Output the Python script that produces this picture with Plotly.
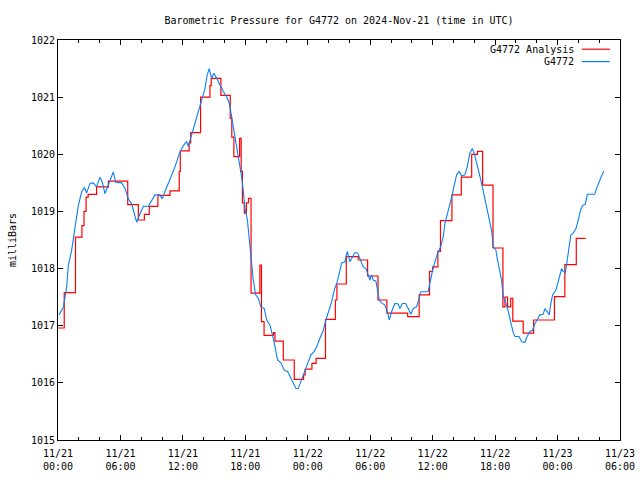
import pandas as pd
import plotly.graph_objects as go

base_time = "2024-11-21 00:00"

# G4772 observations: hours since 11/21 00:00 UTC, pressure (mb)
obs_hours = [0.1, 0.51, 0.83, 0.99, 1.31, 1.63, 1.95, 2.27, 2.53, 2.75, 3.07, 3.39, 3.71, 4.03, 4.26,
             4.51, 4.90, 5.31, 5.54, 6.12, 6.44, 6.76, 7.08, 7.30, 7.56, 7.88, 8.20, 8.68, 9.00, 9.32,
             9.80, 10.02, 10.28, 10.6, 10.92, 11.24, 11.56, 11.88, 12.2, 12.36, 12.52, 12.84, 13.16,
             13.48, 13.8, 14.12, 14.34, 14.53, 14.76, 14.98, 15.24, 15.56, 15.88, 16.2, 16.46, 16.68,
             16.9, 17.16, 17.42, 17.64, 17.8, 17.96, 18.2, 18.35, 18.54, 18.76, 18.99, 19.24, 19.5,
             19.82, 20.05, 20.37, 20.69, 20.91, 21.1, 21.42, 21.74, 22.06, 22.38, 22.6, 22.86, 23.08,
             23.34, 23.66, 23.98, 24.3, 24.63, 24.85, 25.17, 25.49, 25.74, 26.06, 26.3, 26.54, 26.83,
             27.09, 27.25, 27.57, 27.79, 28.05, 28.31, 28.53, 28.8, 29.07, 29.33, 29.59, 29.81, 29.97,
             30.13, 30.29, 30.55, 30.71, 30.87, 31.09, 31.41, 31.64, 31.83, 32.06, 32.37, 32.69, 32.85,
             33.11, 33.4, 33.65, 33.9, 34.13, 34.45, 34.71, 34.84, 35.57, 35.73, 35.99, 36.22, 36.54,
             36.77, 37.01, 37.18, 37.4, 37.66, 37.88, 38.04, 38.3, 38.55, 38.78, 39.1, 39.32, 39.58,
             39.8, 39.99, 40.22, 40.47, 40.7, 40.92, 41.18, 41.44, 41.66, 41.82, 42.07, 42.2, 42.4,
             42.62, 42.78, 43.04, 43.26, 43.49, 43.75, 43.91, 44.3, 44.55, 44.86, 45.08, 45.34, 45.6,
             45.82, 46.04, 46.3, 46.62, 46.78, 47.0, 47.2, 47.33, 47.52, 47.84, 48.06, 48.22, 48.39,
             48.54, 48.75, 48.93, 49.09, 49.28, 49.51, 49.77, 49.99, 50.22, 50.42, 50.65, 50.86, 51.58,
             51.74, 51.97, 52.23, 52.45]
obs_mb = [1017.19, 1017.32, 1017.67, 1018.05, 1018.32, 1018.7, 1019.1, 1019.34, 1019.42, 1019.32,
          1019.49, 1019.5, 1019.43, 1019.6, 1019.51, 1019.31, 1019.49, 1019.69, 1019.51, 1019.5,
          1019.4, 1019.22, 1019.13, 1018.99, 1018.81, 1018.96, 1019.09, 1019.09, 1019.19, 1019.29,
          1019.29, 1019.22, 1019.35, 1019.49, 1019.64, 1019.78, 1019.96, 1020.1, 1020.19, 1020.22,
          1020.14, 1020.34, 1020.57, 1020.78, 1020.95, 1021.15, 1021.39, 1021.5, 1021.33, 1021.42,
          1021.33, 1021.21, 1021.10, 1021.01, 1020.89, 1020.66, 1020.43, 1020.13, 1019.9, 1019.61,
          1019.37, 1019.06, 1018.85, 1018.56, 1018.21, 1017.8, 1017.54, 1017.48, 1017.33, 1017.3,
          1017.1, 1017.01, 1016.78, 1016.57, 1016.4, 1016.35, 1016.22, 1016.2, 1016.08, 1015.99,
          1015.9, 1015.9, 1016.02, 1016.2, 1016.34, 1016.49, 1016.55, 1016.63, 1016.78, 1016.92,
          1017.1, 1017.27, 1017.42, 1017.62, 1017.77, 1017.97, 1018.1, 1018.12, 1018.3, 1018.12,
          1018.22, 1018.28, 1018.27, 1018.15, 1018.03, 1018.0, 1017.89, 1017.8, 1017.89, 1017.8,
          1017.78, 1017.62, 1017.45, 1017.4, 1017.36, 1017.25, 1017.1, 1017.25, 1017.39, 1017.38,
          1017.3, 1017.39, 1017.39, 1017.3, 1017.2, 1017.3, 1017.33, 1017.48, 1017.59, 1017.6,
          1017.77, 1017.97, 1018.12, 1018.3, 1018.38, 1018.56, 1018.79, 1018.94, 1019.11, 1019.29,
          1019.43, 1019.64, 1019.7, 1019.62, 1019.64, 1019.78, 1020.02, 1020.1, 1020.02, 1019.87,
          1019.67, 1019.49, 1019.29, 1019.08, 1018.85, 1018.67, 1018.38, 1018.33, 1018.18, 1017.97,
          1017.8, 1017.51, 1017.39, 1017.25, 1017.04, 1016.87, 1016.81, 1016.81, 1016.72, 1016.71,
          1016.81, 1016.9, 1016.92, 1017.04, 1017.1, 1017.19, 1017.2, 1017.3, 1017.25, 1017.19,
          1017.36, 1017.54, 1017.62, 1017.77, 1017.92, 1018.0, 1017.95, 1017.93, 1018.15, 1018.35,
          1018.59, 1018.62, 1018.7, 1018.85, 1019.03, 1019.11, 1019.12, 1019.3, 1019.3, 1019.4,
          1019.52, 1019.62, 1019.71]

# G4772 Analysis: times where value changes (step function)
ana_hours = [0.0, 0.6, 1.68, 2.3, 2.5, 2.7, 2.9, 3.71, 4.84, 6.70, 7.72, 8.3, 8.77, 9.6, 10.76,
             11.65, 11.75, 12.6, 12.75, 13.7, 14.6, 14.72, 15.65, 16.55, 16.7, 16.9, 17.45, 17.6,
             17.72, 17.9, 18.1, 18.3, 18.55, 19.4, 19.55, 19.8, 20.7, 20.85, 21.65, 22.7, 23.6,
             23.75, 24.4, 24.8, 25.7, 26.65, 26.8, 27.7, 28.85, 29.75, 30.75, 31.6, 33.6, 34.7,
             35.7, 36.0, 36.5, 36.75, 37.85, 38.75, 39.75, 40.3, 40.8, 41.8, 42.75, 42.95, 43.2,
             43.5, 43.7, 44.7, 45.7, 47.7, 48.7, 49.8, 50.7]
ana_mb = [1016.96, 1017.58, 1018.55, 1018.75, 1019.0, 1019.25, 1019.3, 1019.43, 1019.53, 1019.12,
          1018.85, 1018.95, 1019.09, 1019.28, 1019.36, 1019.7, 1020.06, 1020.2, 1020.38, 1021.0,
          1021.2, 1021.33, 1021.03, 1020.63, 1020.3, 1019.96, 1020.28, 1019.7, 1019.15, 1018.97,
          1019.15, 1019.23, 1017.57, 1018.06, 1017.07, 1016.83, 1016.88, 1016.73, 1016.4, 1016.06,
          1016.14, 1016.24, 1016.34, 1016.43, 1017.11, 1017.45, 1017.73, 1018.21, 1018.15, 1017.87,
          1017.45, 1017.22, 1017.16, 1017.54, 1017.95, 1018.03, 1018.3, 1018.84, 1019.29, 1019.6,
          1020.0, 1020.05, 1019.46, 1018.36, 1017.33, 1017.5, 1017.33, 1017.48, 1017.08, 1016.87,
          1017.1, 1017.51, 1018.07, 1018.53, 1018.53]

tick_hours = [0, 6, 12, 18, 24, 30, 36, 42, 48, 54]
tick_labels = ["11/21<br>00:00", "11/21<br>06:00", "11/21<br>12:00", "11/21<br>18:00",
               "11/22<br>00:00", "11/22<br>06:00", "11/22<br>12:00", "11/22<br>18:00",
               "11/23<br>00:00", "11/23<br>06:00"]

t0 = pd.Timestamp(base_time)
to_time = lambda hrs: [t0 + pd.Timedelta(hours=h) for h in hrs]

RED = "#ff0000"
BLUE = "#0a7ff5"
FONT = "DejaVu Sans Mono"

fig = go.Figure()
fig.add_trace(go.Scatter(x=to_time(ana_hours), y=ana_mb, mode="lines", line=dict(color=RED, width=1.2, shape="hv"),
                         name="G4772 Analysis", showlegend=False))
fig.add_trace(go.Scatter(x=to_time(obs_hours), y=obs_mb, mode="lines", line=dict(color=BLUE, width=1.1),
                         name="G4772", showlegend=False))

axis_common = dict(showline=True, linecolor="black", linewidth=1, mirror="allticks", ticks="inside",
                   tickcolor="black", showgrid=False, zeroline=False, automargin=False,
                   tickfont=dict(family=FONT, size=10, color="black"))

fig.update_xaxes(type="date", range=[to_time([0])[0], to_time([54])[0]], tickmode="array",
                 tickvals=to_time(tick_hours), ticktext=tick_labels, ticklen=5, ticklabelstandoff=4,
                 minor=dict(tickmode="linear", tick0=t0, dtick=2 * 3600 * 1000, ticks="inside",
                            ticklen=3, tickcolor="black", showgrid=False),
                 **axis_common)
fig.update_yaxes(range=[1015, 1022], dtick=1, ticklen=5, title=dict(text="milliBars", standoff=12,
                 font=dict(family=FONT, size=10, color="black")), **axis_common)

# gnuplot-style legend (text then line sample)
legend_entries = [("G4772 Analysis", RED, 0.977), ("G4772", BLUE, 0.946)]
for text, color, yy in legend_entries:
    fig.add_annotation(xref="paper", yref="paper", x=0.922, y=yy, text=text, showarrow=False,
                       xanchor="right", yanchor="middle", font=dict(family=FONT, size=10, color="black"))
    fig.add_shape(type="line", xref="paper", yref="paper", x0=0.932, x1=0.982, y0=yy, y1=yy,
                  line=dict(color=color, width=1.2))

fig.update_layout(
    width=640, height=480,
    margin=dict(l=58, r=20, t=40, b=40),
    paper_bgcolor="white", plot_bgcolor="white",
    title=dict(text="Barometric Pressure for G4772 on 2024-Nov-21 (time in UTC)", x=0.5, xanchor="center",
               xref="paper", yref="container",
               y=0.958, yanchor="middle", font=dict(family=FONT, size=10, color="black")),
    showlegend=False,
)

fig.write_html("out.html", config={"displayModeBar": False},
               post_script="document.body.style.margin='0';")
